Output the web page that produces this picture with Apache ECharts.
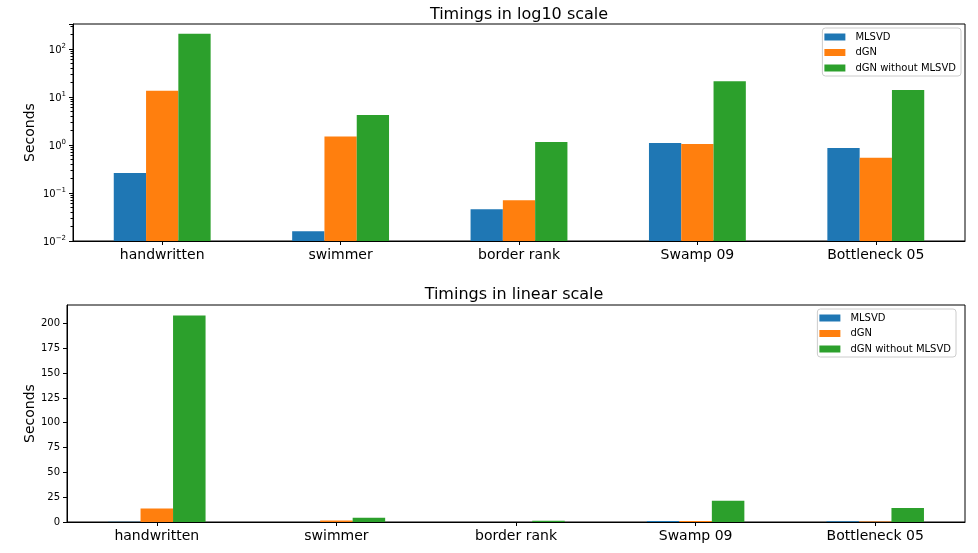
<!DOCTYPE html>
<html><head><meta charset="utf-8">
<script src="https://cdn.jsdelivr.net/npm/echarts@6/dist/echarts.min.js"></script>
<style>html,body{margin:0;padding:0;background:#fff}#c{width:978px;height:553px}</style>
</head><body><div id="c"></div>
<script>
const categories = ['handwritten', 'swimmer', 'border rank', 'Swamp 09', 'Bottleneck 05'];
const seriesNames = ['MLSVD', 'dGN', 'dGN without MLSVD'];
const mlsvd = [0.26, 0.016, 0.046, 1.1, 0.87];
const dgn = [13.5, 1.5, 0.071, 1.05, 0.54];
const dgnNoMlsvd = [208, 4.2, 1.15, 21.4, 14.0];
const linearTicks = [0, 25, 50, 75, 100, 125, 150, 175, 200];
const colors = ['#1f77b4', '#ff7f0e', '#2ca02c'];
const seriesData = [mlsvd, dgn, dgnNoMlsvd];

const LOG_MIN = 0.01, LOG_MAX = 332;

const font = 'DejaVu Sans';
function logLabel(v) {
  const l = Math.log10(v);
  const e = Math.round(l);
  if (!isFinite(l) || Math.abs(l - e) > 1e-6) return '';
  return '{b|10}{s|' + (e < 0 ? '\u2212' + (-e) : e) + '}';
}

const chart = echarts.init(document.getElementById('c'));
const axisLineStyle = {color: '#000', width: 1};
const BAR_FRAC = 0.181;
function xAxis(gi) {
  return {
    type: 'category', gridIndex: gi, data: categories,
    axisLine: {show: true, lineStyle: axisLineStyle},
    axisTick: {show: true, alignWithLabel: true, length: 4, lineStyle: axisLineStyle},
    axisLabel: {color: '#000', fontFamily: font, fontSize: 14, margin: 7},
    splitLine: {show: false}
  };
}
const legendBase = {
  orient: 'vertical', icon: 'rect', itemWidth: 21, itemHeight: 7, itemGap: 5.5,
  textStyle: {fontFamily: font, fontSize: 10, color: '#000', padding: [0, 0, 0, 5]},
  borderColor: '#ccc', borderWidth: 1, borderRadius: 3, padding: [4, 5, 3, 2],
  backgroundColor: 'rgba(255,255,255,0.8)',
  data: seriesNames
};
const series = [];
// log chart: bars drawn from the axis bottom through the axis scale
seriesNames.forEach((n, i) => {
  series.push({
    name: n, type: 'custom', xAxisIndex: 0, yAxisIndex: 0,
    data: seriesData[i].map((v, k) => [k, v]),
    encode: {x: 0, y: 1},
    itemStyle: {color: colors[i]},
    renderItem: (params, api) => {
      const top = api.coord([api.value(0), api.value(1)]);
      const cs = params.coordSys;
      const w = cs.width / categories.length * BAR_FRAC;
      const x = top[0] + (i - 1.5) * w;
      const yBase = cs.y + cs.height;
      return {type: 'rect', shape: {x: x, y: top[1], width: w, height: yBase - top[1]},
              style: {fill: colors[i]}};
    }
  });
});
seriesNames.forEach((n, i) => {
  series.push({
    name: n, type: 'bar', xAxisIndex: 1, yAxisIndex: 1,
    data: seriesData[i], barWidth: (BAR_FRAC * 100) + '%', barGap: '0%',
    itemStyle: {color: colors[i]}, emphasis: {disabled: true}
  });
});
chart.setOption({
  animation: false,
  color: colors,
  title: [
    {text: 'Timings in log10 scale', left: 514, top: 2, textAlign: 'center',
     textStyle: {fontFamily: font, fontSize: 16, fontWeight: 'normal', color: '#000'}},
    {text: 'Timings in linear scale', left: 509, top: 282, textAlign: 'center',
     textStyle: {fontFamily: font, fontSize: 16, fontWeight: 'normal', color: '#000'}}
  ],
  legend: [
    Object.assign({}, legendBase, {right: 17, top: 28}),
    Object.assign({}, legendBase, {right: 22, top: 309})
  ],
  grid: [
    {left: 73, right: 13, top: 24, height: 217, show: true, borderColor: '#000', borderWidth: 1,
     backgroundColor: 'transparent', outerBoundsMode: 'none'},
    {left: 67, right: 13, top: 305, height: 217, show: true, borderColor: '#000', borderWidth: 1,
     backgroundColor: 'transparent', outerBoundsMode: 'none'}
  ],
  xAxis: [xAxis(0), xAxis(1)],
  yAxis: [
    {type: 'log', gridIndex: 0, logBase: 10, min: LOG_MIN, max: LOG_MAX, interval: 1,
     name: 'Seconds', nameLocation: 'middle', nameGap: 36, nameMoveOverlap: false,
     nameTextStyle: {fontFamily: font, fontSize: 14, color: '#000'},
     axisLine: {show: true, lineStyle: axisLineStyle},
     axisTick: {show: true, length: 4, lineStyle: axisLineStyle},
     minorTick: {show: true, splitNumber: 9, length: 2.5, lineStyle: {color: '#000', width: 1}},
     axisLabel: {color: '#000', fontFamily: font, margin: 7, formatter: logLabel, showMaxLabel: false,
       rich: {b: {fontFamily: font, fontSize: 10, color: '#000', lineHeight: 13, verticalAlign: 'bottom'},
              s: {fontFamily: font, fontSize: 7, color: '#000', lineHeight: 8, verticalAlign: 'top'}}},
     splitLine: {show: false}},
    {type: 'value', gridIndex: 1, min: 0, max: 218.6, interval: 25,
     name: 'Seconds', nameLocation: 'middle', nameGap: 30, nameMoveOverlap: false,
     nameTextStyle: {fontFamily: font, fontSize: 14, color: '#000'},
     axisLine: {show: true, lineStyle: axisLineStyle},
     axisTick: {show: true, length: 4, lineStyle: axisLineStyle},
     axisLabel: {color: '#000', fontFamily: font, fontSize: 10, margin: 7, showMaxLabel: false,
       formatter: v => linearTicks.indexOf(v) >= 0 ? String(v) : ''},
     splitLine: {show: false}}
  ],
  series: series
});
</script></body></html>
